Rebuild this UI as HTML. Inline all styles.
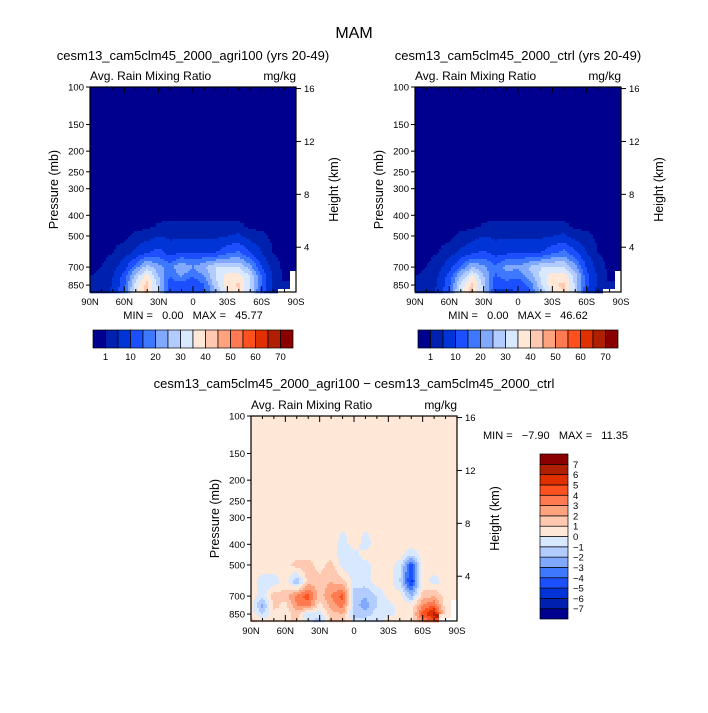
<!DOCTYPE html>
<html><head><meta charset="utf-8"><style>
body{margin:0;background:#fff}
svg text{font-family:"Liberation Sans",sans-serif;fill:#000}
</style></head><body>
<svg id="s" width="708" height="708" viewBox="0 0 708 708" xmlns="http://www.w3.org/2000/svg">
<rect width="708" height="708" fill="#fff"/>
<text x="354" y="38" font-size="16" text-anchor="middle">MAM</text>
</svg>
<script>
const lats=[90,80,70,60,50,40,30,20,10,0,-10,-20,-30,-40,-50,-60,-70,-80,-90];
const levels=[100,200,300,400,450,500,600,700,775,850,916];
const N=NaN;
const agri=[
[0,0,0,0,0,0,0,0,0,0,0,0,0,0,0,0,0,0,0],
[0,0,0,0,0,0,0,0,0,0,0,0,0,0,0,0,0,0,0],
[0,0,0,0,0,0,0,0,0,0,0,0,0,0,0,0,0,0,0],
[0,0,0,0,0,0,0,0,0,0,0,0,0,0,0,0,0,0,0],
[0,0,0,0,0,0,1.5,2,2,2,2,2,2,2,0,0,0,0,0],
[0,0,0,0,2,3,5,4,4,4,4,4,5,6,3,2,0,0,0],
[0,0,1,3,6,10,12,8,10,10,10,10,14,16,10,5,1,0,0],
[0,1,3,8,18,28,22,18,25,20,25,30,30,30,22,10,3,0,0],
[1,2,5,12,28,38,25,15,20,15,20,30,38,38,30,15,4,0,N],
[2,3,5,14,32,42,28,12,12,10,15,28,38,41,30,15,4,1,N],
[2,3,6,15,35,42,28,10,10,10,14,25,35,40,30,12,3,N,N]];
const ctrl=[
[0,0,0,0,0,0,0,0,0,0,0,0,0,0,0,0,0,0,0],
[0,0,0,0,0,0,0,0,0,0,0,0,0,0,0,0,0,0,0],
[0,0,0,0,0,0,0,0,0,0,0,0,0,0,0,0,0,0,0],
[0,0,0,0,0,0,0,0,0,0,0,0,0,0,0,0,0,0,0],
[0,0,0,0,0,0,1.5,2,2,2,2,2,2,2,0,0,0,0,0],
[0,0,0,0,2,3,5,4,4,4,4,4,5,6,3,2,0,0,0],
[0,0,1,3,6,9,11,8,9,10,10,10,14,17,11,5,1,0,0],
[0,1,3,8,16,25,21,16,22,21,26,30,31,30,22,9,3,0,0],
[1,2,5,12,26,36,25,14,18,16,22,31,38,38,28,12,4,0,N],
[2,3,5,14,31,42,28,11,11,11,16,29,39,41,29,12,4,1,N],
[2,3,6,15,34,42,28,9,9,10,15,26,36,40,29,9,3,N,N]];
const diff=[
[.5,.5,.5,.5,.5,.5,.5,.5,.5,.5,.5,.5,.5,.5,.5,.5,.5,.5,.5],
[.5,.5,.5,.5,.5,.5,.5,.5,.5,.5,.5,.5,.5,.5,.5,.5,.5,.5,.5],
[.5,.5,.5,.5,.5,.5,.5,.5,.5,.5,.5,.5,.5,.5,.5,.5,.5,.5,.5],
[.5,.5,.5,.5,.5,.5,.5,.5,-.5,.5,-.5,.5,.5,.5,.5,.5,.5,.5,.5],
[.5,.5,.5,.5,.5,.5,.5,.5,-.5,-.5,.5,.5,.5,.5,-1,.5,.5,.5,.5],
[.5,.5,.5,.5,1.5,1.5,.5,1.5,-.5,-.5,-.5,.5,.5,-.5,-4.5,.5,.5,.5,.5],
[.5,-.5,-.5,.5,-2,1.5,1.5,2,1.5,-.5,-.5,.5,.5,-1,-5.5,.5,-.5,.5,.5],
[.5,-.5,1.5,1.5,3.5,4.5,1.5,3,4.5,-1.5,-2,-1,.5,.5,-2,1.5,2,.5,.5],
[.5,-2.5,1.5,.5,3,3.5,.5,2.5,3.5,-1.5,-2.5,-1,-.5,.5,.5,3,4,.5,N],
[.5,-1,.5,.5,1.5,-1,-.5,1.5,2,-1.5,-1.5,-.5,-.5,.5,.5,4.5,6.5,.5,N],
[1.5,.5,.5,1,1,-.5,-1.5,1.5,1.5,-.5,-.5,-.5,.5,.5,.5,3,4,N,N]];
const absLevels=[1,5,10,15,20,25,30,35,40,45,50,55,60,65,70];
const absLabels=["1","10","20","30","40","50","60","70"];
const diffLevels=[-7,-6,-5,-4,-3,-2,-1,0,1,2,3,4,5,6,7];
const pTicks=[100,150,200,250,300,400,500,700,850];
const hTicks=[16,12,8,4];
const latTicks=[90,60,30,0,-30,-60,-90];
const latTickLabels=["90N","60N","30N","0","30S","60S","90S"];

const colors=["#00008f","#0020ae","#0034d6","#1c50ff","#3e78ff","#80a8ff","#b2ccff","#d8e8ff","#ffe8d8","#ffc8b0","#ffa27e","#ff7a50","#ff5020","#e03000","#b02000","#8a0000"];
const S=document.getElementById('s');
const NS='http://www.w3.org/2000/svg';
function mk(t,a,p){const e=document.createElementNS(NS,t);for(const k in a)e.setAttribute(k,a[k]);(p||S).appendChild(e);return e;}
function txt(x,y,s,fs,anc,name,p){const e=mk('text',{x:x,y:y,'font-size':fs,'text-anchor':anc||'start'},p);e.textContent=s;

return e;}
const H=205, W=206, PB=916;
function yOfP(p,y0){return y0+Math.log10(p/100)/Math.log10(PB/100)*H;}
function xOfLat(l,x0){return x0+(90-l)/180*W;}
function valAt(g,lat,p){
  let fi=(90-lat)/10; fi=Math.max(0,Math.min(18,fi));
  const lp=Math.log(p); let r=0;
  while(r<levels.length-2&&Math.log(levels[r+1])<lp)r++;
  let ft=(lp-Math.log(levels[r]))/(Math.log(levels[r+1])-Math.log(levels[r])); ft=Math.max(0,Math.min(1,ft));
  const c=Math.min(17,Math.floor(fi)), fx=fi-c;
  const a=g[r][c],b=g[r][c+1],d=g[r+1][c],e=g[r+1][c+1];
  if([a,b,d,e].some(isNaN)){
    const rr=ft<.5?r:r+1, cc=fx<.5?c:c+1; const v=g[rr][cc]; return v;}
  return (a*(1-fx)+b*fx)*(1-ft)+(d*(1-fx)+e*fx)*ft;
}
function cidx(v,lv){let i=0;while(i<lv.length&&v>=lv[i])i++;return i;}
function panel(x0,y0,g,lv,name){
  const G=mk('g',{});
  
  
  const st=2;
  for(let py=0;py<H;py+=st){
    const p=100*Math.pow(PB/100,(py+st/2)/H);
    let run=-2,rs=0;
    const flush=(end)=>{if(run===-2)return;const r=mk('rect',{x:x0+rs,y:y0+py,width:end-rs+0.3,height:st+0.3,fill:run<0?'#fff':colors[run]},G);
      
      };
    for(let px=0;px<W;px+=st){
      const lat=90-(px+st/2)/W*180;
      const v=valAt(g,lat,p);
      const ci=isNaN(v)?-1:cidx(v,lv);
      if(ci!==run){flush(px);run=ci;rs=px;}
    }
    flush(W);
  }
  const fr=mk('rect',{x:x0,y:y0,width:W,height:H,fill:'none',stroke:'#000','stroke-width':1.2});
  
  
  for(let l=90;l>=-90;l-=10){
    const x=xOfLat(l,x0), len=(l%30===0)?6:3;
    mk('line',{x1:x,y1:y0+H,x2:x,y2:y0+H-len,stroke:'#000'});
    mk('line',{x1:x,y1:y0,x2:x,y2:y0+len,stroke:'#000'});
  }
  latTicks.forEach((l,i)=>txt(xOfLat(l,x0),y0+H+13,latTickLabels[i],9.5,'middle','x-tick-label'));
  pTicks.forEach(p=>{const y=yOfP(p,y0);mk('line',{x1:x0,y1:y,x2:x0-4,y2:y,stroke:'#000'});
    txt(x0-6,y+3.5,String(p),9.5,'end','pressure-tick-label');});
  hTicks.forEach(h=>{const p=1000*Math.exp(-h/7);const y=yOfP(p,y0);
    mk('line',{x1:x0+W,y1:y,x2:x0+W+5,y2:y,stroke:'#000'});
    txt(x0+W+8,y+3.5,String(h),9.5,'start','height-tick-label');});
  const px_=x0-32,py_=y0+H/2;
  const t1=txt(px_,py_,'Pressure (mb)',12.5,'middle','y-axis-title');t1.setAttribute('transform',`rotate(-90 ${px_} ${py_})`);
  const hx=x0+W+42,hy=y0+H/2;const t2=txt(hx,hy,'Height (km)',12.5,'middle','right-axis-title');t2.setAttribute('transform',`rotate(-90 ${hx} ${hy})`);
  txt(x0,y0-7,'Avg. Rain Mixing Ratio',12,'start','variable-label');
  txt(x0+W,y0-7,'mg/kg',12,'end','units-label');
}
panel(90,87,agri,absLevels,'agri100-panel');
panel(415,87,ctrl,absLevels,'ctrl-panel');
panel(251,416,diff,diffLevels,'difference-panel');
txt(193,60,'cesm13_cam5clm45_2000_agri100 (yrs 20-49)',13,'middle','agri100-title');
txt(518,60,'cesm13_cam5clm45_2000_ctrl (yrs 20-49)',13,'middle','ctrl-title');
txt(354,388,'cesm13_cam5clm45_2000_agri100 \u2212 cesm13_cam5clm45_2000_ctrl',13,'middle','difference-title');
function mm(x,y,a,b,anc,name){const e=txt(x,y,'',11,anc,name);e.style.whiteSpace='pre';e.textContent='MIN =   '+a+'   MAX =   '+b;}
mm(193,319,'0.00','45.77','middle','agri100-minmax');
mm(518,319,'0.00','46.62','middle','ctrl-minmax');
mm(483,439,'\u22127.90','11.35','start','difference-minmax');
function hbar(x0,y0,name){
  const G=mk('g',{});
  const bw=12.5;
  colors.forEach((c,i)=>{const r=mk('rect',{x:x0+i*bw,y:y0,width:bw,height:18,fill:c,stroke:'#000','stroke-width':0.7},G);
    });
  absLabels.forEach((s,i)=>txt(x0+(1+2*i)*bw,y0+30,s,9.5,'middle','colorbar-label'));
}
hbar(93,330,'agri100-colorbar');
hbar(418,330,'ctrl-colorbar');
(function(){const x0=540,y0=454,bh=165/16;
  const G=mk('g',{});
  colors.forEach((c,i)=>{const r=mk('rect',{x:x0,y:y0+(15-i)*bh,width:28,height:bh,fill:c,stroke:'#000','stroke-width':0.7},G);
    });
  diffLevels.forEach((v,i)=>txt(x0+33,y0+(15-i)*bh+3.5,v<0?'\u2212'+(-v):String(v),9.5,'start','colorbar-label'));
})();
</script>
</body></html>
